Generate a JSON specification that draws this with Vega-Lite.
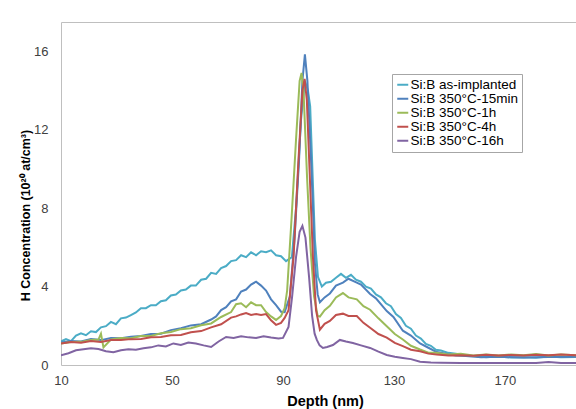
{
  "$schema": "https://vega.github.io/schema/vega-lite/v6.json",
  "width": 515,
  "height": 343,
  "autosize": {"type": "none"},
  "padding": {"left": 61, "top": 22, "right": 0, "bottom": 44},
  "background": "white",
  "config": {
    "view": {"stroke": "#bfbfbf", "strokeWidth": 1},
    "font": "Liberation Sans"
  },
  "data": {"values": [
    {"s":"Si:B as-implanted","d":10,"v":1.2},{"s":"Si:B as-implanted","d":11.8,"v":1.32},{"s":"Si:B as-implanted","d":13.6,"v":1.22},{"s":"Si:B as-implanted","d":15.4,"v":1.5},{"s":"Si:B as-implanted","d":17.2,"v":1.62},{"s":"Si:B as-implanted","d":19.0,"v":1.52},{"s":"Si:B as-implanted","d":20.8,"v":1.72},{"s":"Si:B as-implanted","d":22.6,"v":1.68},{"s":"Si:B as-implanted","d":24.4,"v":1.92},{"s":"Si:B as-implanted","d":26.2,"v":1.98},{"s":"Si:B as-implanted","d":28.0,"v":2.2},{"s":"Si:B as-implanted","d":29.8,"v":2.08},{"s":"Si:B as-implanted","d":31.6,"v":2.38},{"s":"Si:B as-implanted","d":33.4,"v":2.42},{"s":"Si:B as-implanted","d":35.2,"v":2.55},{"s":"Si:B as-implanted","d":37.0,"v":2.68},{"s":"Si:B as-implanted","d":38.8,"v":2.9},{"s":"Si:B as-implanted","d":40.6,"v":2.9},{"s":"Si:B as-implanted","d":42.4,"v":3.05},{"s":"Si:B as-implanted","d":44.2,"v":3.05},{"s":"Si:B as-implanted","d":46.0,"v":3.25},{"s":"Si:B as-implanted","d":47.8,"v":3.3},{"s":"Si:B as-implanted","d":49.6,"v":3.55},{"s":"Si:B as-implanted","d":51.4,"v":3.6},{"s":"Si:B as-implanted","d":53.2,"v":3.8},{"s":"Si:B as-implanted","d":55.0,"v":3.85},{"s":"Si:B as-implanted","d":56.8,"v":4.05},{"s":"Si:B as-implanted","d":58.6,"v":4.05},{"s":"Si:B as-implanted","d":60.5,"v":4.35},{"s":"Si:B as-implanted","d":62.3,"v":4.4},{"s":"Si:B as-implanted","d":64.1,"v":4.7},{"s":"Si:B as-implanted","d":65.9,"v":4.65},{"s":"Si:B as-implanted","d":67.7,"v":4.95},{"s":"Si:B as-implanted","d":69.5,"v":5.05},{"s":"Si:B as-implanted","d":71.3,"v":5.3},{"s":"Si:B as-implanted","d":73.1,"v":5.35},{"s":"Si:B as-implanted","d":74.9,"v":5.6},{"s":"Si:B as-implanted","d":76.7,"v":5.5},{"s":"Si:B as-implanted","d":78.5,"v":5.75},{"s":"Si:B as-implanted","d":80.3,"v":5.6},{"s":"Si:B as-implanted","d":82.1,"v":5.8},{"s":"Si:B as-implanted","d":83.9,"v":5.75},{"s":"Si:B as-implanted","d":85.7,"v":5.85},{"s":"Si:B as-implanted","d":87.5,"v":5.6},{"s":"Si:B as-implanted","d":89.3,"v":5.55},{"s":"Si:B as-implanted","d":91.1,"v":5.3},{"s":"Si:B as-implanted","d":93.2,"v":5.5},{"s":"Si:B as-implanted","d":94.7,"v":8},{"s":"Si:B as-implanted","d":96.5,"v":12.5},{"s":"Si:B as-implanted","d":97.9,"v":14.5},{"s":"Si:B as-implanted","d":99.0,"v":14.0},{"s":"Si:B as-implanted","d":99.8,"v":13.2},{"s":"Si:B as-implanted","d":100.6,"v":10},{"s":"Si:B as-implanted","d":101.5,"v":6.4},{"s":"Si:B as-implanted","d":102.6,"v":4.5},{"s":"Si:B as-implanted","d":104.0,"v":4.0},{"s":"Si:B as-implanted","d":105.5,"v":4.2},{"s":"Si:B as-implanted","d":107.3,"v":4.25},{"s":"Si:B as-implanted","d":109.1,"v":4.45},{"s":"Si:B as-implanted","d":110.9,"v":4.65},{"s":"Si:B as-implanted","d":112.7,"v":4.45},{"s":"Si:B as-implanted","d":114.5,"v":4.6},{"s":"Si:B as-implanted","d":116.3,"v":4.35},{"s":"Si:B as-implanted","d":118.1,"v":4.25},{"s":"Si:B as-implanted","d":119.9,"v":4.0},{"s":"Si:B as-implanted","d":121.7,"v":3.9},{"s":"Si:B as-implanted","d":123.5,"v":3.6},{"s":"Si:B as-implanted","d":125.3,"v":3.45},{"s":"Si:B as-implanted","d":127.1,"v":3.15},{"s":"Si:B as-implanted","d":128.9,"v":3.0},{"s":"Si:B as-implanted","d":130.7,"v":2.6},{"s":"Si:B as-implanted","d":132.5,"v":2.4},{"s":"Si:B as-implanted","d":134.3,"v":2.0},{"s":"Si:B as-implanted","d":136.1,"v":1.85},{"s":"Si:B as-implanted","d":137.9,"v":1.5},{"s":"Si:B as-implanted","d":139.7,"v":1.35},{"s":"Si:B as-implanted","d":141.5,"v":1.08},{"s":"Si:B as-implanted","d":143.3,"v":0.98},{"s":"Si:B as-implanted","d":145.1,"v":0.78},{"s":"Si:B as-implanted","d":146.9,"v":0.74},{"s":"Si:B as-implanted","d":149.6,"v":0.62},{"s":"Si:B as-implanted","d":152.3,"v":0.58},{"s":"Si:B as-implanted","d":155.9,"v":0.47},{"s":"Si:B as-implanted","d":159.5,"v":0.46},{"s":"Si:B as-implanted","d":163.2,"v":0.4},{"s":"Si:B as-implanted","d":167.7,"v":0.43},{"s":"Si:B as-implanted","d":172.2,"v":0.38},{"s":"Si:B as-implanted","d":176.7,"v":0.4},{"s":"Si:B as-implanted","d":181.2,"v":0.37},{"s":"Si:B as-implanted","d":185.7,"v":0.43},{"s":"Si:B as-implanted","d":190.2,"v":0.39},{"s":"Si:B as-implanted","d":195.6,"v":0.41},
    {"s":"Si:B 350°C-15min","d":10,"v":1.15},{"s":"Si:B 350°C-15min","d":13.6,"v":1.22},{"s":"Si:B 350°C-15min","d":17.2,"v":1.2},{"s":"Si:B 350°C-15min","d":20.8,"v":1.32},{"s":"Si:B 350°C-15min","d":24.4,"v":1.27},{"s":"Si:B 350°C-15min","d":28.0,"v":1.38},{"s":"Si:B 350°C-15min","d":31.6,"v":1.36},{"s":"Si:B 350°C-15min","d":35.2,"v":1.44},{"s":"Si:B 350°C-15min","d":38.8,"v":1.48},{"s":"Si:B 350°C-15min","d":42.4,"v":1.58},{"s":"Si:B 350°C-15min","d":46.0,"v":1.6},{"s":"Si:B 350°C-15min","d":49.6,"v":1.78},{"s":"Si:B 350°C-15min","d":53.2,"v":1.88},{"s":"Si:B 350°C-15min","d":56.8,"v":2.02},{"s":"Si:B 350°C-15min","d":60.5,"v":2.08},{"s":"Si:B 350°C-15min","d":64.1,"v":2.32},{"s":"Si:B 350°C-15min","d":65.9,"v":2.48},{"s":"Si:B 350°C-15min","d":67.7,"v":2.8},{"s":"Si:B 350°C-15min","d":69.5,"v":2.95},{"s":"Si:B 350°C-15min","d":71.3,"v":3.25},{"s":"Si:B 350°C-15min","d":73.1,"v":3.35},{"s":"Si:B 350°C-15min","d":74.9,"v":3.75},{"s":"Si:B 350°C-15min","d":76.7,"v":3.85},{"s":"Si:B 350°C-15min","d":78.5,"v":4.1},{"s":"Si:B 350°C-15min","d":80.3,"v":4.25},{"s":"Si:B 350°C-15min","d":82.1,"v":4.05},{"s":"Si:B 350°C-15min","d":83.9,"v":3.8},{"s":"Si:B 350°C-15min","d":85.7,"v":3.35},{"s":"Si:B 350°C-15min","d":87.5,"v":3.05},{"s":"Si:B 350°C-15min","d":89.3,"v":2.72},{"s":"Si:B 350°C-15min","d":90.6,"v":2.7},{"s":"Si:B 350°C-15min","d":92.5,"v":3.5},{"s":"Si:B 350°C-15min","d":94.2,"v":6.5},{"s":"Si:B 350°C-15min","d":95.8,"v":10.5},{"s":"Si:B 350°C-15min","d":97.0,"v":14.5},{"s":"Si:B 350°C-15min","d":97.9,"v":15.85},{"s":"Si:B 350°C-15min","d":98.8,"v":14.5},{"s":"Si:B 350°C-15min","d":100.1,"v":10.5},{"s":"Si:B 350°C-15min","d":100.8,"v":8.0},{"s":"Si:B 350°C-15min","d":101.5,"v":5.2},{"s":"Si:B 350°C-15min","d":102.5,"v":3.6},{"s":"Si:B 350°C-15min","d":103.3,"v":3.2},{"s":"Si:B 350°C-15min","d":105.0,"v":3.45},{"s":"Si:B 350°C-15min","d":106.9,"v":3.65},{"s":"Si:B 350°C-15min","d":109.1,"v":4.05},{"s":"Si:B 350°C-15min","d":111.6,"v":4.2},{"s":"Si:B 350°C-15min","d":113.6,"v":4.4},{"s":"Si:B 350°C-15min","d":116.6,"v":4.2},{"s":"Si:B 350°C-15min","d":118.1,"v":4.1},{"s":"Si:B 350°C-15min","d":121.4,"v":3.62},{"s":"Si:B 350°C-15min","d":123.5,"v":3.4},{"s":"Si:B 350°C-15min","d":127.4,"v":2.75},{"s":"Si:B 350°C-15min","d":129.8,"v":2.45},{"s":"Si:B 350°C-15min","d":133.2,"v":1.75},{"s":"Si:B 350°C-15min","d":136.1,"v":1.5},{"s":"Si:B 350°C-15min","d":139.4,"v":1.1},{"s":"Si:B 350°C-15min","d":142.4,"v":0.88},{"s":"Si:B 350°C-15min","d":145.4,"v":0.66},{"s":"Si:B 350°C-15min","d":148.7,"v":0.57},{"s":"Si:B 350°C-15min","d":152.3,"v":0.48},{"s":"Si:B 350°C-15min","d":155.9,"v":0.46},{"s":"Si:B 350°C-15min","d":161.4,"v":0.4},{"s":"Si:B 350°C-15min","d":167.7,"v":0.42},{"s":"Si:B 350°C-15min","d":176.7,"v":0.38},{"s":"Si:B 350°C-15min","d":185.7,"v":0.41},{"s":"Si:B 350°C-15min","d":195.6,"v":0.42},
    {"s":"Si:B 350°C-1h","d":10,"v":1.1},{"s":"Si:B 350°C-1h","d":13.6,"v":1.17},{"s":"Si:B 350°C-1h","d":17.2,"v":1.18},{"s":"Si:B 350°C-1h","d":20.8,"v":1.27},{"s":"Si:B 350°C-1h","d":23.5,"v":1.3},{"s":"Si:B 350°C-1h","d":24.4,"v":1.6},{"s":"Si:B 350°C-1h","d":25.3,"v":0.9},{"s":"Si:B 350°C-1h","d":28.0,"v":1.3},{"s":"Si:B 350°C-1h","d":31.6,"v":1.38},{"s":"Si:B 350°C-1h","d":35.2,"v":1.37},{"s":"Si:B 350°C-1h","d":38.8,"v":1.48},{"s":"Si:B 350°C-1h","d":42.4,"v":1.48},{"s":"Si:B 350°C-1h","d":46.0,"v":1.62},{"s":"Si:B 350°C-1h","d":49.6,"v":1.68},{"s":"Si:B 350°C-1h","d":53.2,"v":1.83},{"s":"Si:B 350°C-1h","d":56.8,"v":1.88},{"s":"Si:B 350°C-1h","d":60.5,"v":2.03},{"s":"Si:B 350°C-1h","d":64.1,"v":2.12},{"s":"Si:B 350°C-1h","d":67.7,"v":2.45},{"s":"Si:B 350°C-1h","d":71.3,"v":2.7},{"s":"Si:B 350°C-1h","d":73.1,"v":3.1},{"s":"Si:B 350°C-1h","d":74.9,"v":3.15},{"s":"Si:B 350°C-1h","d":76.7,"v":2.95},{"s":"Si:B 350°C-1h","d":78.5,"v":3.2},{"s":"Si:B 350°C-1h","d":80.3,"v":3.05},{"s":"Si:B 350°C-1h","d":82.1,"v":3.05},{"s":"Si:B 350°C-1h","d":83.9,"v":2.7},{"s":"Si:B 350°C-1h","d":85.7,"v":2.48},{"s":"Si:B 350°C-1h","d":87.5,"v":2.3},{"s":"Si:B 350°C-1h","d":89.3,"v":2.5},{"s":"Si:B 350°C-1h","d":90.6,"v":2.9},{"s":"Si:B 350°C-1h","d":91.5,"v":3.8},{"s":"Si:B 350°C-1h","d":93.1,"v":7.5},{"s":"Si:B 350°C-1h","d":94.7,"v":11.5},{"s":"Si:B 350°C-1h","d":96.0,"v":14.5},{"s":"Si:B 350°C-1h","d":96.7,"v":14.9},{"s":"Si:B 350°C-1h","d":97.4,"v":14.0},{"s":"Si:B 350°C-1h","d":98.7,"v":9.5},{"s":"Si:B 350°C-1h","d":99.9,"v":6.0},{"s":"Si:B 350°C-1h","d":101.2,"v":3.5},{"s":"Si:B 350°C-1h","d":102.5,"v":2.5},{"s":"Si:B 350°C-1h","d":103.3,"v":2.47},{"s":"Si:B 350°C-1h","d":105.0,"v":2.8},{"s":"Si:B 350°C-1h","d":106.9,"v":3.02},{"s":"Si:B 350°C-1h","d":109.1,"v":3.45},{"s":"Si:B 350°C-1h","d":111.6,"v":3.67},{"s":"Si:B 350°C-1h","d":113.6,"v":3.45},{"s":"Si:B 350°C-1h","d":116.6,"v":3.35},{"s":"Si:B 350°C-1h","d":119.0,"v":3.0},{"s":"Si:B 350°C-1h","d":121.4,"v":2.82},{"s":"Si:B 350°C-1h","d":124.4,"v":2.38},{"s":"Si:B 350°C-1h","d":127.4,"v":1.98},{"s":"Si:B 350°C-1h","d":130.3,"v":1.58},{"s":"Si:B 350°C-1h","d":133.2,"v":1.3},{"s":"Si:B 350°C-1h","d":136.1,"v":0.98},{"s":"Si:B 350°C-1h","d":139.4,"v":0.79},{"s":"Si:B 350°C-1h","d":142.4,"v":0.63},{"s":"Si:B 350°C-1h","d":145.1,"v":0.62},{"s":"Si:B 350°C-1h","d":149.6,"v":0.53},{"s":"Si:B 350°C-1h","d":154.1,"v":0.57},{"s":"Si:B 350°C-1h","d":158.6,"v":0.49},{"s":"Si:B 350°C-1h","d":163.2,"v":0.54},{"s":"Si:B 350°C-1h","d":167.7,"v":0.49},{"s":"Si:B 350°C-1h","d":172.2,"v":0.54},{"s":"Si:B 350°C-1h","d":176.7,"v":0.5},{"s":"Si:B 350°C-1h","d":181.2,"v":0.56},{"s":"Si:B 350°C-1h","d":185.7,"v":0.49},{"s":"Si:B 350°C-1h","d":190.2,"v":0.54},{"s":"Si:B 350°C-1h","d":195.6,"v":0.5},
    {"s":"Si:B 350°C-4h","d":10,"v":1.1},{"s":"Si:B 350°C-4h","d":13.6,"v":1.17},{"s":"Si:B 350°C-4h","d":17.2,"v":1.13},{"s":"Si:B 350°C-4h","d":20.8,"v":1.22},{"s":"Si:B 350°C-4h","d":24.4,"v":1.18},{"s":"Si:B 350°C-4h","d":28.0,"v":1.27},{"s":"Si:B 350°C-4h","d":31.6,"v":1.28},{"s":"Si:B 350°C-4h","d":35.2,"v":1.32},{"s":"Si:B 350°C-4h","d":38.8,"v":1.33},{"s":"Si:B 350°C-4h","d":42.4,"v":1.42},{"s":"Si:B 350°C-4h","d":46.0,"v":1.43},{"s":"Si:B 350°C-4h","d":49.6,"v":1.52},{"s":"Si:B 350°C-4h","d":53.2,"v":1.53},{"s":"Si:B 350°C-4h","d":56.8,"v":1.67},{"s":"Si:B 350°C-4h","d":60.5,"v":1.73},{"s":"Si:B 350°C-4h","d":64.1,"v":1.92},{"s":"Si:B 350°C-4h","d":67.7,"v":2.08},{"s":"Si:B 350°C-4h","d":71.3,"v":2.42},{"s":"Si:B 350°C-4h","d":73.1,"v":2.48},{"s":"Si:B 350°C-4h","d":74.9,"v":2.58},{"s":"Si:B 350°C-4h","d":76.7,"v":2.65},{"s":"Si:B 350°C-4h","d":78.5,"v":2.55},{"s":"Si:B 350°C-4h","d":80.3,"v":2.6},{"s":"Si:B 350°C-4h","d":82.1,"v":2.55},{"s":"Si:B 350°C-4h","d":83.9,"v":2.6},{"s":"Si:B 350°C-4h","d":85.7,"v":2.28},{"s":"Si:B 350°C-4h","d":87.5,"v":2.05},{"s":"Si:B 350°C-4h","d":89.3,"v":2.15},{"s":"Si:B 350°C-4h","d":90.6,"v":2.4},{"s":"Si:B 350°C-4h","d":92.0,"v":2.8},{"s":"Si:B 350°C-4h","d":93.8,"v":5.5},{"s":"Si:B 350°C-4h","d":95.6,"v":10.5},{"s":"Si:B 350°C-4h","d":97.0,"v":14.0},{"s":"Si:B 350°C-4h","d":97.8,"v":14.6},{"s":"Si:B 350°C-4h","d":98.6,"v":13.5},{"s":"Si:B 350°C-4h","d":99.7,"v":9.5},{"s":"Si:B 350°C-4h","d":100.8,"v":5.5},{"s":"Si:B 350°C-4h","d":101.9,"v":2.8},{"s":"Si:B 350°C-4h","d":103.3,"v":1.8},{"s":"Si:B 350°C-4h","d":105.0,"v":2.1},{"s":"Si:B 350°C-4h","d":106.9,"v":2.25},{"s":"Si:B 350°C-4h","d":109.1,"v":2.55},{"s":"Si:B 350°C-4h","d":111.6,"v":2.62},{"s":"Si:B 350°C-4h","d":113.6,"v":2.5},{"s":"Si:B 350°C-4h","d":116.6,"v":2.5},{"s":"Si:B 350°C-4h","d":119.0,"v":2.15},{"s":"Si:B 350°C-4h","d":121.4,"v":1.9},{"s":"Si:B 350°C-4h","d":124.4,"v":1.58},{"s":"Si:B 350°C-4h","d":127.4,"v":1.4},{"s":"Si:B 350°C-4h","d":130.3,"v":1.13},{"s":"Si:B 350°C-4h","d":133.2,"v":0.96},{"s":"Si:B 350°C-4h","d":136.1,"v":0.78},{"s":"Si:B 350°C-4h","d":139.4,"v":0.7},{"s":"Si:B 350°C-4h","d":142.4,"v":0.58},{"s":"Si:B 350°C-4h","d":145.4,"v":0.53},{"s":"Si:B 350°C-4h","d":149.6,"v":0.48},{"s":"Si:B 350°C-4h","d":154.1,"v":0.5},{"s":"Si:B 350°C-4h","d":158.6,"v":0.47},{"s":"Si:B 350°C-4h","d":163.2,"v":0.52},{"s":"Si:B 350°C-4h","d":167.7,"v":0.49},{"s":"Si:B 350°C-4h","d":172.2,"v":0.51},{"s":"Si:B 350°C-4h","d":176.7,"v":0.48},{"s":"Si:B 350°C-4h","d":181.2,"v":0.52},{"s":"Si:B 350°C-4h","d":185.7,"v":0.5},{"s":"Si:B 350°C-4h","d":190.2,"v":0.53},{"s":"Si:B 350°C-4h","d":195.6,"v":0.5},
    {"s":"Si:B 350°C-16h","d":10,"v":0.5},{"s":"Si:B 350°C-16h","d":12.7,"v":0.6},{"s":"Si:B 350°C-16h","d":15.4,"v":0.75},{"s":"Si:B 350°C-16h","d":18.1,"v":0.8},{"s":"Si:B 350°C-16h","d":20.8,"v":0.85},{"s":"Si:B 350°C-16h","d":23.5,"v":0.82},{"s":"Si:B 350°C-16h","d":26.2,"v":0.7},{"s":"Si:B 350°C-16h","d":28.9,"v":0.65},{"s":"Si:B 350°C-16h","d":31.6,"v":0.75},{"s":"Si:B 350°C-16h","d":34.3,"v":0.8},{"s":"Si:B 350°C-16h","d":37.0,"v":0.78},{"s":"Si:B 350°C-16h","d":39.7,"v":0.85},{"s":"Si:B 350°C-16h","d":42.4,"v":0.9},{"s":"Si:B 350°C-16h","d":45.1,"v":1.0},{"s":"Si:B 350°C-16h","d":47.8,"v":0.95},{"s":"Si:B 350°C-16h","d":50.5,"v":1.1},{"s":"Si:B 350°C-16h","d":53.2,"v":1.02},{"s":"Si:B 350°C-16h","d":55.9,"v":1.15},{"s":"Si:B 350°C-16h","d":58.6,"v":1.1},{"s":"Si:B 350°C-16h","d":61.4,"v":1.0},{"s":"Si:B 350°C-16h","d":64.1,"v":0.92},{"s":"Si:B 350°C-16h","d":66.8,"v":1.2},{"s":"Si:B 350°C-16h","d":69.5,"v":1.43},{"s":"Si:B 350°C-16h","d":72.2,"v":1.38},{"s":"Si:B 350°C-16h","d":74.9,"v":1.47},{"s":"Si:B 350°C-16h","d":77.6,"v":1.41},{"s":"Si:B 350°C-16h","d":80.3,"v":1.38},{"s":"Si:B 350°C-16h","d":83.0,"v":1.47},{"s":"Si:B 350°C-16h","d":85.7,"v":1.4},{"s":"Si:B 350°C-16h","d":88.4,"v":1.35},{"s":"Si:B 350°C-16h","d":90.0,"v":1.38},{"s":"Si:B 350°C-16h","d":92.0,"v":1.94},{"s":"Si:B 350°C-16h","d":93.3,"v":3.5},{"s":"Si:B 350°C-16h","d":94.7,"v":5.5},{"s":"Si:B 350°C-16h","d":96.0,"v":6.8},{"s":"Si:B 350°C-16h","d":97.0,"v":7.1},{"s":"Si:B 350°C-16h","d":98.1,"v":6.5},{"s":"Si:B 350°C-16h","d":99.4,"v":4.5},{"s":"Si:B 350°C-16h","d":100.5,"v":2.5},{"s":"Si:B 350°C-16h","d":101.4,"v":1.6},{"s":"Si:B 350°C-16h","d":102.2,"v":1.28},{"s":"Si:B 350°C-16h","d":103.2,"v":1.0},{"s":"Si:B 350°C-16h","d":104.4,"v":0.87},{"s":"Si:B 350°C-16h","d":105.9,"v":0.92},{"s":"Si:B 350°C-16h","d":108.0,"v":1.02},{"s":"Si:B 350°C-16h","d":110.5,"v":1.28},{"s":"Si:B 350°C-16h","d":112.7,"v":1.2},{"s":"Si:B 350°C-16h","d":115.2,"v":1.12},{"s":"Si:B 350°C-16h","d":118.1,"v":1.0},{"s":"Si:B 350°C-16h","d":121.4,"v":0.87},{"s":"Si:B 350°C-16h","d":124.4,"v":0.68},{"s":"Si:B 350°C-16h","d":127.4,"v":0.51},{"s":"Si:B 350°C-16h","d":130.3,"v":0.42},{"s":"Si:B 350°C-16h","d":133.2,"v":0.36},{"s":"Si:B 350°C-16h","d":136.1,"v":0.3},{"s":"Si:B 350°C-16h","d":139.4,"v":0.17},{"s":"Si:B 350°C-16h","d":143.3,"v":0.13},{"s":"Si:B 350°C-16h","d":146.9,"v":0.12},{"s":"Si:B 350°C-16h","d":154.1,"v":0.1},{"s":"Si:B 350°C-16h","d":163.2,"v":0.1},{"s":"Si:B 350°C-16h","d":172.2,"v":0.1},{"s":"Si:B 350°C-16h","d":181.2,"v":0.1},{"s":"Si:B 350°C-16h","d":185.7,"v":0.15},{"s":"Si:B 350°C-16h","d":190.2,"v":0.1},{"s":"Si:B 350°C-16h","d":195.6,"v":0.1}
  ]},
  "mark": {"type": "line", "strokeWidth": 2, "clip": true},
  "encoding": {
    "x": {
      "field": "d", "type": "quantitative",
      "scale": {"domain": [10, 195.6], "nice": false, "zero": false},
      "axis": {
        "title": "Depth (nm)", "values": [10, 50, 90, 130, 170], "grid": false, "ticks": false,
        "domain": false, "labelFontSize": 13, "labelColor": "#404040", "labelPadding": 9, "labelFlush": false,
        "labelFont": "Liberation Sans", "titleFont": "Liberation Sans", "titleFontSize": 14.5, "titleFontWeight": "bold",
        "titleColor": "#000000", "titleX": 264, "titleY": 36, "titleBaseline": "middle", "titleAlign": "center", "titleAnchor": "start"
      }
    },
    "y": {
      "field": "v", "type": "quantitative",
      "scale": {"domain": [0, 17.5], "nice": false},
      "axis": {
        "title": "H Concentration (10²⁰ at/cm³)", "values": [0, 4, 8, 12, 16], "grid": false, "ticks": false,
        "domain": false, "labelFontSize": 13, "labelColor": "#404040", "labelPadding": 13,
        "labelFont": "Liberation Sans", "titleFont": "Liberation Sans", "titleFontSize": 12.5, "titleFontWeight": "bold",
        "titleColor": "#000000", "titleX": -36, "titleY": 193, "titleAngle": -90, "titleBaseline": "middle", "titleAlign": "center", "titleAnchor": "start"
      }
    },
    "color": {
      "field": "s", "type": "nominal",
      "scale": {
        "domain": ["Si:B as-implanted", "Si:B 350°C-15min", "Si:B 350°C-1h", "Si:B 350°C-4h", "Si:B 350°C-16h"],
        "range": ["#4BACC6", "#4F81BD", "#9BBB59", "#C0504D", "#8064A2"]
      },
      "legend": {
        "title": null, "orient": "none", "legendX": 331, "legendY": 52,
        "symbolType": "stroke", "symbolSize": 121, "symbolStrokeWidth": 2,
        "labelFontSize": 13.5, "labelFont": "Liberation Sans", "labelColor": "#000000", "labelOffset": 1,
        "rowPadding": -1.5, "padding": 4, "strokeColor": "#a6a6a6", "fillColor": "#ffffff", "labelLimit": 200
      }
    }
  }
}
